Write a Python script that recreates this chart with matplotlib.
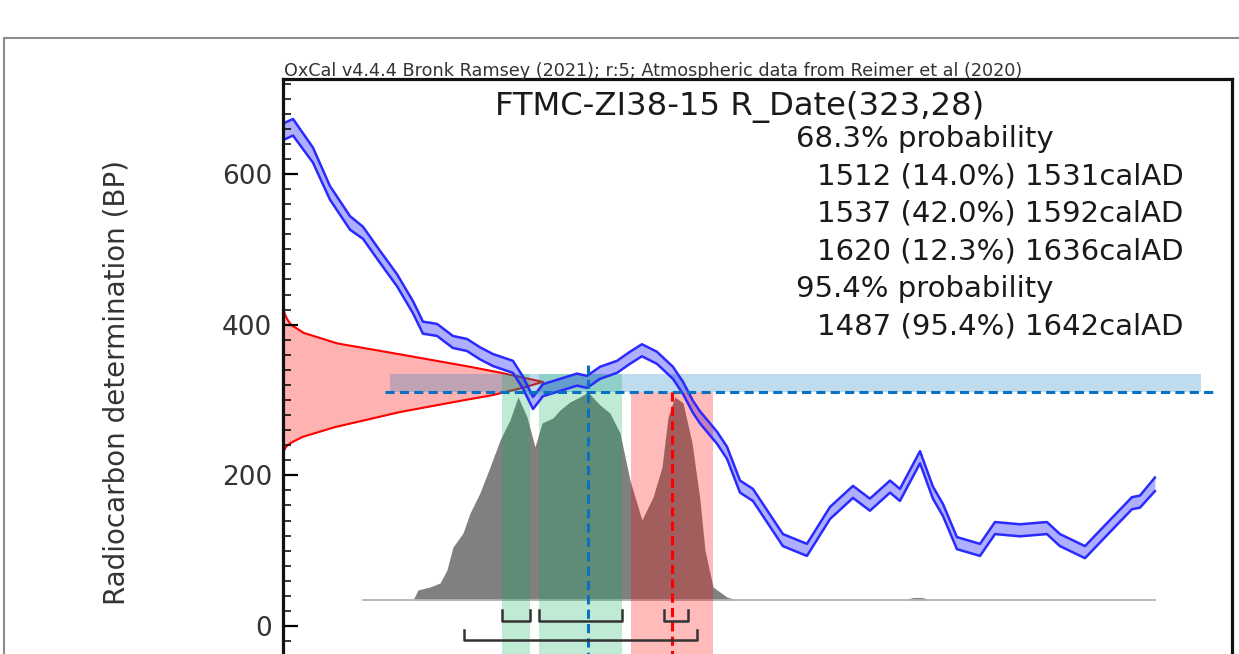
import matplotlib
matplotlib.use('Agg')
import matplotlib.pyplot as plt
from matplotlib.patches import Rectangle
from matplotlib.ticker import MultipleLocator

# calibration curve (IntCal20): cal AD, BP, 1 sigma
cal_year = [1366, 1372.7, 1386, 1397.3, 1410.7, 1419.3, 1430.7, 1442, 1452.7, 1459.3,
            1468.7, 1479.3, 1488.7, 1497.3, 1506, 1519.3, 1526, 1532.7, 1539.3, 1550.7,
            1562, 1568.7, 1577.3, 1588.7, 1597.3, 1605.3, 1615.3, 1626, 1632.7, 1639.3,
            1644, 1655.3, 1662, 1670.7, 1679.3, 1699.3, 1715.3, 1730.7, 1746, 1757.3,
            1770.7, 1777.3, 1790.7, 1799.3, 1806, 1815.3, 1830.7, 1840.7, 1857.3, 1875.3,
            1884, 1900.7, 1912.7, 1932, 1937.3, 1947.3]
cal_bp = [656, 662, 625, 575, 535, 522, 490, 459, 423, 396,
          393, 377, 373, 362, 353, 344, 323, 296, 313, 320,
          327, 324, 336, 344, 356, 366, 356, 336, 316, 291,
          277, 250, 230, 185, 174, 114, 101, 150, 178, 161,
          185, 174, 224, 177, 154, 110, 101, 130, 127, 130,
          114, 98, 123, 163, 165, 188]
cal_err = [11, 11, 10, 9, 9, 8, 8, 8, 8, 8,
           8, 8, 8, 8, 8, 8, 8, 8, 8, 8,
           8, 8, 8, 8, 8, 8, 8, 8, 8, 8,
           8, 8, 8, 8, 8, 8, 8, 8, 8, 8,
           8, 8, 8, 8, 8, 8, 8, 8, 8, 8,
           8, 8, 8, 8, 8, 9]

# radiocarbon date R_Date(323,28), relative probability
date_bp = [233, 238, 243, 251, 264, 284, 300, 306, 316, 324, 330, 336, 344, 360, 375, 389, 400, 408, 414, 419]
date_p = [0.004, 0.012, 0.03, 0.075, 0.2, 0.45, 0.7, 0.8, 0.92, 1.0, 0.92, 0.84, 0.72, 0.46, 0.21, 0.08, 0.03, 0.015, 0.007, 0.003]

# calibrated posterior, relative probability
post_year = [1419.3, 1452.7, 1456, 1464, 1470.7, 1475.3, 1479.3, 1486, 1490.7, 1497.3,
             1504, 1510.7, 1517.3, 1522.7, 1528.7, 1534, 1538.7, 1546, 1550.7, 1557.3,
             1564, 1569.3, 1577.3, 1584, 1590.7, 1597.3, 1605.3, 1612.7, 1618.7, 1622.7,
             1627.3, 1632.7, 1638.7, 1644, 1647.3, 1652.7, 1662, 1668.7, 1780, 1786,
             1792, 1798, 1947.3]
post_p = [0, 0, 0.048, 0.062, 0.081, 0.143, 0.252, 0.319, 0.414, 0.51,
          0.633, 0.762, 0.857, 0.967, 0.871, 0.729, 0.843, 0.867, 0.905, 0.943,
          0.967, 0.99, 0.929, 0.89, 0.795, 0.571, 0.381, 0.49, 0.633, 0.871,
          0.967, 0.938, 0.748, 0.476, 0.238, 0.062, 0.014, 0, 0, 0.012,
          0.012, 0, 0]

range68 = [(1512, 14.0, 1531), (1537, 42.0, 1592), (1620, 12.3, 1636)]
range95 = [(1487, 95.4, 1642)]
green_spans = [(1512, 1531), (1537, 1592)]
red_span = (1598, 1653)
band_bp = (311, 335)              # horizontal blue band
dash_bp = 311
mean_year = 1569.3
mark_year = 1625.3

W, H = 1239, 654
fig = plt.figure(figsize=(W / 100, H / 100), dpi=100)

ax = fig.add_axes([283 / W, 0, (1232 - 283) / W, (654 - 79) / H])
axp = ax.twinx()
axd = ax.twiny()
ax.set_zorder(3)
axd.set_zorder(2)
axp.set_zorder(1)
ax.patch.set_visible(False)
axd.patch.set_visible(False)

ax.set_xlim(1366, 1998.7)
ax.set_ylim(-37.2, 726.1)
ylo = -37.2

# posterior (behind everything)
axp.fill_between(post_year, 0, post_p, color='#808080', lw=0)
axp.plot(post_year, [0] * len(post_year), color='#b5b5b5', lw=1.3)
axp.set_ylim(-(654 - 600) / 210, (600 - 79) / 210)
axp.axis('off')

# radiocarbon date along the y axis
axd.fill_betweenx(date_bp, 0, date_p, color='red', alpha=0.3, lw=0)
axd.plot(date_p, date_bp, color='red', lw=1.5)
axd.set_xlim(0, 949 / 260)
axd.axis('off')

# horizontal band and calibration curve
ax.fill_between([1437.3, 1978], band_bp[0], band_bp[1], color=(0, 0.45, 0.75), alpha=0.25, lw=0)
lo = [b - e for b, e in zip(cal_bp, cal_err)]
hi = [b + e for b, e in zip(cal_bp, cal_err)]
ax.fill_between(cal_year, lo, hi, color=(0.1, 0.1, 1.0), alpha=0.35, lw=0)
ax.plot(cal_year, lo, color='#2a2aff', lw=1.8, solid_joinstyle='round')
ax.plot(cal_year, hi, color='#2a2aff', lw=1.8, solid_joinstyle='round')

# highlighted spans
for a, b in green_spans:
    ax.fill_between([a, b], ylo, band_bp[1], color=(0, 0.7, 0.35), alpha=0.25, lw=0)
ax.fill_between(list(red_span), ylo, dash_bp, color='red', alpha=0.27, lw=0)

# dashed markers
ax.plot([1434, 1987.3], [dash_bp, dash_bp], color='#0a70c0', lw=2.2, dashes=(3, 1.7))
ax.plot([mean_year, mean_year], [346, ylo], color='#0a70c0', lw=2.2, dashes=(3, 1.7))
ax.plot([mark_year, mark_year], [dash_bp, ylo], color='red', lw=2.2, dashes=(3, 1.7))

# range brackets
for a, p, b in range68:
    ax.plot([a, a, b, b], [21, 7, 7, 21], color='#333333', lw=1.8, solid_joinstyle='round')
for a, p, b in range95:
    ax.plot([a, a, b, b], [-5, -19, -19, -5], color='#333333', lw=1.8, solid_joinstyle='round')

# axes styling
for s in ['left', 'top', 'right']:
    ax.spines[s].set_linewidth(2.3)
    ax.spines[s].set_color('#111111')
ax.spines['bottom'].set_visible(False)
ax.set_xticks([])
ax.set_yticks([0, 200, 400, 600])
ax.yaxis.set_minor_locator(MultipleLocator(20))
ax.tick_params(axis='y', which='major', direction='in', length=11, width=1.6,
               labelsize=19, pad=8, labelcolor='#333333', left=True, right=False)
ax.tick_params(axis='y', which='minor', direction='in', length=5.5, width=1.1,
               left=True, right=False)

# outer frame
fig.add_artist(Rectangle((4 / W, -1), 2, 2 - 38 / H, transform=fig.transFigure,
                         fill=False, ec='#8c8c8c', lw=1.5, clip_on=False))

# texts
fig.text(284 / W, 1 - 76 / H,
         'OxCal v4.4.4 Bronk Ramsey (2021); r:5; Atmospheric data from Reimer et al (2020)',
         fontsize=12.7, color='#333333', ha='left', va='baseline')
fig.text(495 / W, 1 - 115 / H, 'FTMC-ZI38-15 R_Date(323,28)', fontsize=23.2,
         color='#1a1a1a', ha='left', va='baseline')

lines = [('68.3% probability', 796)]
lines += [('%d (%.1f%%) %dcalAD' % r, 817) for r in range68]
lines += [('95.4% probability', 796)]
lines += [('%d (%.1f%%) %dcalAD' % r, 817) for r in range95]
for i, (txt, x) in enumerate(lines):
    fig.text(x / W, 1 - (147 + 37.4 * i) / H, txt, fontsize=21, color='#1a1a1a',
             ha='left', va='baseline')

fig.text(117 / W, 1 - 382.5 / H, 'Radiocarbon determination (BP)', rotation=90,
         fontsize=20, color='#333333', ha='center', va='center')

fig.savefig('out.png', dpi=100)
